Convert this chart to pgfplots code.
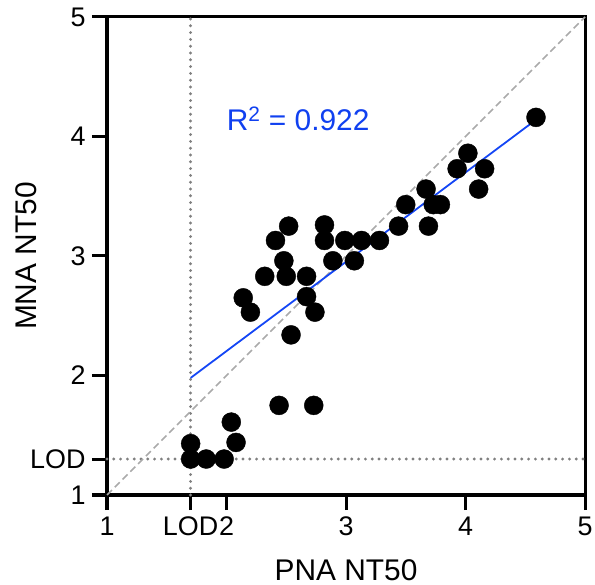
\documentclass[border=0pt]{standalone}
\usepackage{fontspec}
\setmainfont{Liberation Sans}
\usepackage{pgfplots}
\pgfplotsset{compat=1.18}
\definecolor{regblue}{RGB}{20,70,245}
\definecolor{txtblue}{RGB}{16,64,240}
\definecolor{lodgray}{RGB}{128,128,128}
\definecolor{diaggray}{RGB}{170,170,170}
\begin{document}
\begin{tikzpicture}[x=1bp,y=1bp]
\begin{axis}[
  at={(107bp,90bp)}, anchor=south west,
  scale only axis, width=478bp, height=478bp,
  xmin=1, xmax=5, ymin=1, ymax=5,
  axis line style={line width=3bp, black},
  xtick={1,1.699,2,3,4,5}, xticklabels={1,LOD,2,3,4,5},
  ytick={1,1.301,2,3,4,5}, yticklabels={1,LOD,2,3,4,5},
  tick align=outside, xtick pos=bottom, ytick pos=left,
  major tick length=15bp,
  major tick style={line width=3bp, black},
  tick label style={font=\fontsize{27}{27}\selectfont},
  xticklabel style={yshift=-3bp},
  yticklabel style={xshift=-3bp},
  xlabel={PNA NT50}, ylabel={MNA NT50},
  label style={font=\fontsize{30}{30}\selectfont},
  xlabel style={at={(axis description cs:0.5,0)}, anchor=base, yshift=-85bp},
  ylabel style={at={(axis description cs:0,0.5)}, anchor=center, rotate=0, yshift=80.5bp, xshift=0bp},
  clip=false,
]
% LOD lines
\addplot[lodgray, line width=3.2bp, line cap=round, dash pattern=on 0bp off 6.8bp] coordinates {(1.699,1) (1.699,5)};
\addplot[lodgray, line width=3.2bp, line cap=round, dash pattern=on 0bp off 6.8bp] coordinates {(1,1.301) (5,1.301)};
% identity
\addplot[diaggray, line width=1.6bp, dash pattern=on 7bp off 4bp] coordinates {(1,1) (5,5)};
% regression
\addplot[regblue, line width=1.8bp] coordinates {(1.70,1.98) (4.59,4.14)};
% data
\addplot[only marks, mark=*, mark size=9.5bp, mark options={fill=black, draw=black}] coordinates {
(1.70,1.43) (1.70,1.301) (1.83,1.301) (1.98,1.301) (2.04,1.61) (2.08,1.44)
(2.44,1.75) (2.73,1.75) (2.54,2.34) (2.14,2.65) (2.20,2.53) (2.67,2.66)
(2.74,2.53) (2.32,2.83) (2.50,2.83) (2.67,2.83) (2.48,2.96) (2.89,2.96)
(3.07,2.96) (2.41,3.13) (2.82,3.13) (2.99,3.13) (3.13,3.13) (3.28,3.13)
(2.52,3.25) (2.82,3.26) (3.44,3.25) (3.69,3.25) (3.50,3.43) (3.73,3.43)
(3.79,3.43) (3.67,3.56) (4.11,3.56) (3.93,3.73) (4.16,3.73) (4.02,3.86)
(4.59,4.16)
};
\node[txtblue, font=\fontsize{30}{30}\selectfont] at (axis cs:2.60,4.15) {R\textsuperscript{2} = 0.922};
\end{axis}
\pgfresetboundingbox
\path (0,0) rectangle (595bp,585bp);
\end{tikzpicture}
\end{document}
